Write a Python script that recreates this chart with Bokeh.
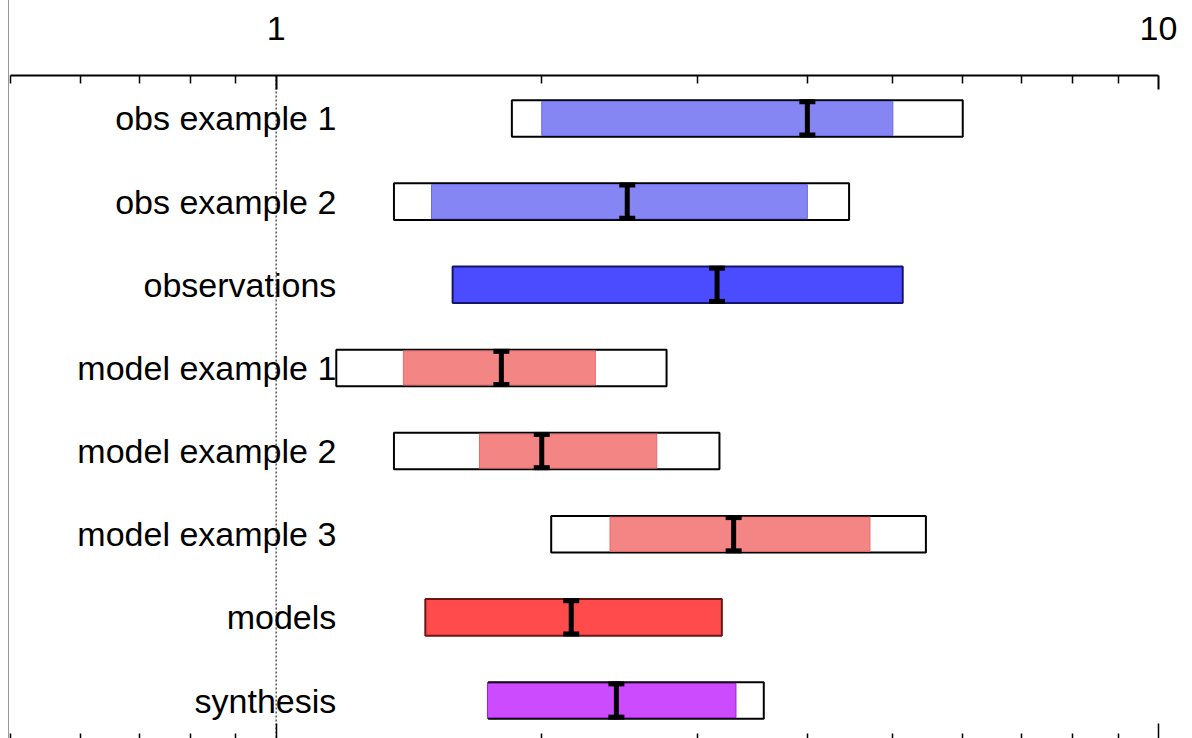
from bokeh.plotting import figure
from bokeh.models import Span, FixedTicker, LogAxis, PrintfTickFormatter, Range1d, ColumnDataSource
from bokeh.core.properties import value
from bokeh.embed import file_html
from bokeh.resources import INLINE

# ---- data (top to bottom) ----
labels = ["obs example 1", "obs example 2", "observations", "model example 1",
          "model example 2", "model example 3", "models", "synthesis"]
outer_lo = [1.85, 1.36, None, 1.17, 1.36, 2.05, None, 1.74]
outer_hi = [6.00, 4.46, None, 2.77, 3.18, 5.45, None, 3.57]
inner_lo = [2.00, 1.50, 1.585, 1.394, 1.70, 2.39, 1.476, 1.736]
inner_hi = [5.00, 4.00, 5.13, 2.30, 2.70, 4.71, 3.20, 3.32]
median = [4.00, 2.50, 3.16, 1.80, 2.00, 3.30, 2.16, 2.43]
fill_colors = ["#8585f3", "#8585f3", "#4b4bff", "#f38585", "#f38585", "#f38585", "#ff4b4b", "#cc4bff"]
line_colors = ["#6a6aee", "#6a6aee", "#15156e", "#ea6a6a", "#ea6a6a", "#ea6a6a", "#6e1515", "#a020d8"]
major_ticks = [1, 10]
minor_ticks = [0.5, 0.6, 0.7, 0.8, 0.9, 2, 3, 4, 5, 6, 7, 8, 9]
label_x = 1.17

n = len(labels)
ypos = [n - i for i in range(n)]

H_OUT = 0.44
H_IN = 0.41
H_MED = 0.45
FONT = "Liberation Sans"

p = figure(width=1180, height=738, x_axis_type="log", x_axis_location="above",
           y_axis_location=None, x_range=Range1d(0.5, 10), y_range=Range1d(0.543, 8.517),
           output_backend="svg", toolbar_location=None,
           min_border_left=1, min_border_right=31, min_border_top=75, min_border_bottom=0)
p.styles = {"border-left": "1px solid #999999", "margin-left": "8px"}
p.outline_line_color = None
p.xgrid.visible = False
p.ygrid.visible = False

ax = p.xaxis[0]
ax.ticker = FixedTicker(ticks=major_ticks, minor_ticks=minor_ticks)
ax.formatter = PrintfTickFormatter(format="%g")
ax.major_tick_in = 14
ax.major_tick_out = 0
ax.minor_tick_in = 8
ax.minor_tick_out = 0
ax.axis_line_width = 2
ax.major_tick_line_width = 2
ax.minor_tick_line_width = 1.5
ax.major_label_text_font = FONT
ax.major_label_text_font_size = "34px"
ax.major_label_text_color = "black"
ax.major_label_standoff = 36

bx = LogAxis(ticker=FixedTicker(ticks=major_ticks, minor_ticks=minor_ticks))
bx.axis_line_color = None
bx.major_tick_in = 15
bx.major_tick_out = 0
bx.minor_tick_in = 5
bx.minor_tick_out = 0
bx.major_tick_line_width = 1.5
bx.minor_tick_line_width = 1.5
bx.major_label_text_font_size = "2px"
bx.major_label_text_alpha = 0
bx.major_label_standoff = 0
p.add_layout(bx, "below")

p.add_layout(Span(location=1, dimension="height", line_color="black",
                  line_dash="2 2", line_width=1))

# outer (white) boxes
oidx = [i for i in range(n) if outer_lo[i] is not None]
osrc = ColumnDataSource(dict(
    left=[outer_lo[i] for i in oidx], right=[outer_hi[i] for i in oidx],
    top=[ypos[i] + H_OUT / 2 for i in oidx], bottom=[ypos[i] - H_OUT / 2 for i in oidx]))
p.quad(left="left", right="right", top="top", bottom="bottom", source=osrc,
       fill_color="white", line_color="black", line_width=2)

# inner colored bars
isrc = ColumnDataSource(dict(
    left=inner_lo, right=inner_hi,
    top=[ypos[i] + (H_IN if outer_lo[i] is not None else H_OUT) / 2 for i in range(n)],
    bottom=[ypos[i] - (H_IN if outer_lo[i] is not None else H_OUT) / 2 for i in range(n)],
    fill=fill_colors, line=line_colors,
    lw=[1 if outer_lo[i] is not None else 2 for i in range(n)]))
p.quad(left="left", right="right", top="top", bottom="bottom", source=isrc,
       fill_color="fill", line_color="line", line_width="lw")

# median markers
p.segment(x0=median, x1=median, y0=[y - H_MED / 2 for y in ypos], y1=[y + H_MED / 2 for y in ypos],
          line_color="black", line_width=5)
p.scatter(x=median + median, y=[y - H_MED / 2 + 0.025 for y in ypos] + [y + H_MED / 2 - 0.025 for y in ypos],
          marker="dash", size=16, line_color="black", line_width=5)

# labels
p.text(x=[label_x] * n, y=ypos, text=labels, text_align="right", text_baseline="middle",
       text_font=value(FONT), text_font_size="34px", text_color="black")

open("out.html", "w").write(file_html(p, INLINE))
